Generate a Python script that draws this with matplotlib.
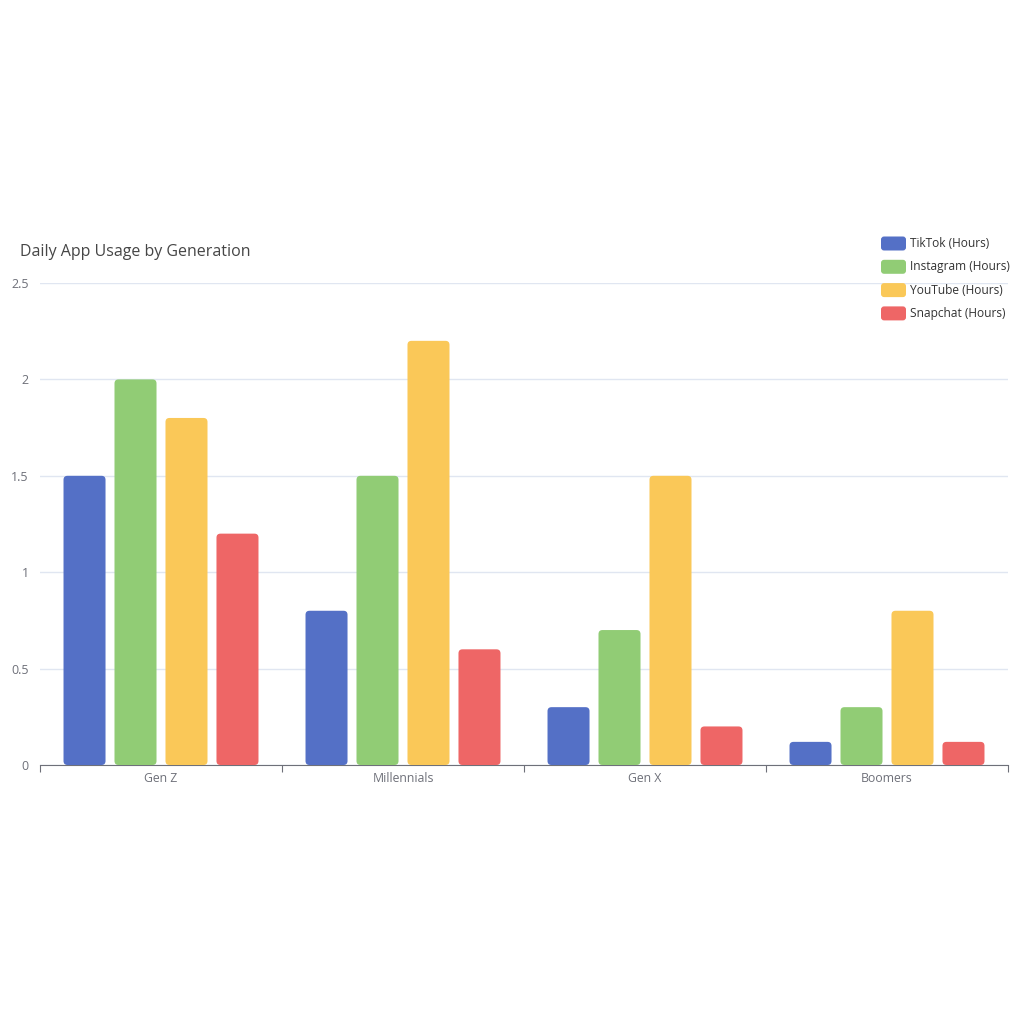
import matplotlib
matplotlib.use("Agg")
from matplotlib import pyplot as plt
from matplotlib.patches import FancyBboxPatch
import numpy as np

# data
generations = ["Gen Z", "Millennials", "Gen X", "Boomers"]
series_names = ["TikTok (Hours)", "Instagram (Hours)", "YouTube (Hours)", "Snapchat (Hours)"]
tiktok = [1.5, 0.8, 0.3, 0.12]
instagram = [2.0, 1.5, 0.7, 0.3]
youtube = [1.8, 2.2, 1.5, 0.8]
snapchat = [1.2, 0.6, 0.2, 0.12]
yticks = [0, 0.5, 1, 1.5, 2, 2.5]
ytick_labels = ["0", "0.5", "1", "1.5", "2", "2.5"]

colors = ["#5470c6", "#91cc75", "#fac858", "#ee6666"]
series = [tiktok, instagram, youtube, snapchat]

plt.rcParams['font.family'] = ['Open Sans', 'DejaVu Sans']

fig = plt.figure(figsize=(10.24, 10.24), dpi=100)
ax = fig.add_axes([40/1024, 1-765/1024, 968/1024, 482/1024])

x = np.arange(len(generations))
bw = 0.1736
step = 0.2107
ax.set_xlim(-0.5, len(generations) - 0.5)
ax.set_ylim(0, 2.5)

# rounded corners: aspect between y-units and x-units per pixel
px_x = (len(generations)) / 968.0
px_y = 2.5 / 482.0
aspect = px_y / px_x
r = 4 * px_x

for i, vals in enumerate(series):
    bars = ax.bar(x + (i - 1.5) * step, vals, bw, color=colors[i])
    for b in bars:
        b.set_visible(False)
        p = FancyBboxPatch((b.get_x(), b.get_y()), b.get_width(), b.get_height(),
                           boxstyle="round,pad=0,rounding_size=%f" % r,
                           mutation_aspect=aspect, facecolor=colors[i],
                           edgecolor="none", zorder=3)
        ax.add_patch(p)

# grid and axes
ax.set_yticks(yticks)
ax.set_yticklabels(ytick_labels)
ax.yaxis.grid(True, color="#e0e6f1", linewidth=1)
ax.set_axisbelow(True)
for s in ["top", "right", "left"]:
    ax.spines[s].set_visible(False)
ax.spines["bottom"].set_color("#6e7079")
ax.tick_params(axis="y", length=0, labelsize=9, labelcolor="#6e7079", pad=8)

ax.set_xticks(np.arange(-0.5, len(generations), 1.0))
ax.set_xticklabels([])
ax.tick_params(axis="x", which="major", length=5, color="#6e7079", direction="out")
ax.set_xticks(x, minor=True)
ax.set_xticklabels(generations, minor=True)
ax.tick_params(axis="x", which="minor", length=0, labelsize=8.8, labelcolor="#6e7079", pad=5)

# title
fig.text(20/1024, 1-252/1024, "Daily App Usage by Generation", fontsize=11.5,
         color="#464646", va="center", ha="left")

# legend
for i, name in enumerate(series_names):
    yc = 1 - (243.5 + i * 23.3) / 1024
    fig.patches.append(FancyBboxPatch((881/1024, yc - 7/1024), 25/1024, 14/1024,
                                      boxstyle="round,pad=0,rounding_size=0.003",
                                      transform=fig.transFigure, facecolor=colors[i],
                                      edgecolor="none", figure=fig))
    fig.text(910/1024, yc, name, fontsize=8.6, color="#333333", va="center", ha="left")

fig.savefig("out.png", dpi=100, facecolor="white")
